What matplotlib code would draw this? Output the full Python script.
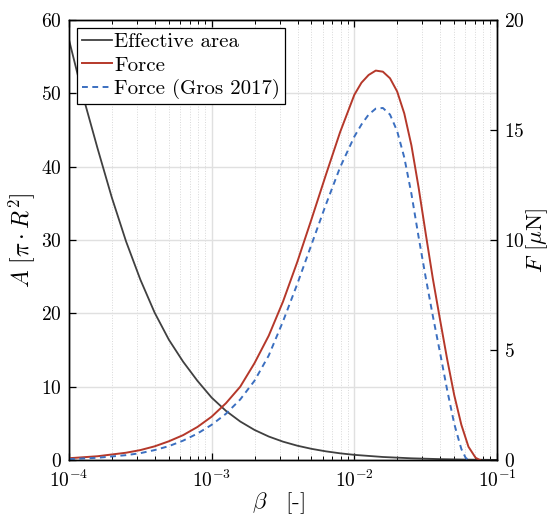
import numpy as np
import matplotlib
matplotlib.use("Agg")
import matplotlib.pyplot as plt
from matplotlib.ticker import LogLocator, NullFormatter, FixedLocator

plt.rcParams["font.family"] = "serif"
plt.rcParams["font.serif"] = ["cmr10"]
plt.rcParams["mathtext.fontset"] = "cm"
plt.rcParams["axes.unicode_minus"] = False
plt.rcParams["axes.formatter.use_mathtext"] = True

# ── Data (positions given as log10(beta)) ──
log_beta_area = [-4.0, -3.9, -3.8, -3.7, -3.6, -3.5, -3.4, -3.3, -3.2, -3.1,
                 -3.0, -2.9, -2.8, -2.7, -2.6, -2.5, -2.4, -2.3, -2.2, -2.1,
                 -2.0, -1.8, -1.6, -1.4, -1.2, -1.0]
area = [57.3, 49.5, 42.5, 35.8, 29.8, 24.6, 20.1, 16.4, 13.4, 10.8,
        8.5, 6.7, 5.25, 4.1, 3.2, 2.5, 1.95, 1.52, 1.18, 0.91,
        0.7, 0.41, 0.23, 0.12, 0.05, 0.01]

log_beta_force = [-4.0, -3.8, -3.6, -3.5, -3.4, -3.3, -3.2, -3.1, -3.0, -2.9,
                  -2.8, -2.7, -2.6, -2.5, -2.4, -2.3, -2.2, -2.1, -2.05, -2.0,
                  -1.95, -1.9, -1.85, -1.8, -1.75, -1.7, -1.65, -1.6, -1.55,
                  -1.5, -1.45, -1.4, -1.35, -1.3, -1.25, -1.2, -1.15, -1.12]
force = [0.08, 0.17, 0.33, 0.45, 0.62, 0.85, 1.13, 1.50, 1.97, 2.58,
         3.33, 4.4, 5.65, 7.2, 9.0, 10.95, 12.95, 14.9, 15.75, 16.6,
         17.15, 17.5, 17.7, 17.65, 17.35, 16.75, 15.75, 14.3, 12.4,
         10.3, 8.25, 6.4, 4.6, 2.95, 1.6, 0.6, 0.1, 0.0]

log_beta_gros = [-4.0, -3.8, -3.6, -3.5, -3.4, -3.3, -3.2, -3.1, -3.0, -2.9,
                 -2.8, -2.7, -2.6, -2.5, -2.4, -2.3, -2.2, -2.1, -2.0, -1.95,
                 -1.9, -1.85, -1.8, -1.75, -1.7, -1.65, -1.6, -1.55, -1.5,
                 -1.45, -1.4, -1.35, -1.3, -1.27, -1.25, -1.22, -1.2]
force_gros = [0.04, 0.10, 0.22, 0.31, 0.45, 0.63, 0.88, 1.2, 1.6, 2.1,
              2.75, 3.6, 4.75, 6.3, 8.0, 9.8, 11.6, 13.3, 14.7, 15.25,
              15.7, 15.97, 16.0, 15.7, 14.95, 13.75, 12.1, 10.15, 8.3,
              6.55, 4.9, 3.2, 1.65, 0.95, 0.5, 0.1, 0.0]

C_AREA = "#404040"
C_FORCE = "#b5382a"
C_GROS = "#3b6fc0"

fig = plt.figure(figsize=(5.52, 5.19), dpi=100)
ax = fig.add_axes([0.125, 0.1137, 0.7754, 0.8478])
ax2 = ax.twinx()

ax.set_xscale("log")
ax.set_xlim(1e-4, 1e-1)
ax.set_ylim(0, 60)
ax2.set_ylim(0, 20)

l1, = ax.plot(10.0 ** np.array(log_beta_area), area, color=C_AREA, lw=1.3,
              label="Effective area")
l2, = ax2.plot(10.0 ** np.array(log_beta_force), force, color=C_FORCE, lw=1.4,
               label="Force")
l3, = ax2.plot(10.0 ** np.array(log_beta_gros), force_gros, color=C_GROS, lw=1.4,
               ls=(0, (3, 2.3)), label="Force (Gros 2017)")

# grid
ax.set_axisbelow(True)
ax.grid(True, which="major", color="#e0e0e0", lw=1.0)
ax.xaxis.grid(True, which="minor", color="#d8d8d8", lw=0.7, ls=":")

ax.xaxis.set_major_locator(LogLocator(base=10, numticks=10))
ax.xaxis.set_minor_locator(LogLocator(base=10, subs=np.arange(2, 10), numticks=10))
ax.xaxis.set_minor_formatter(NullFormatter())
ax.yaxis.set_major_locator(FixedLocator([0, 10, 20, 30, 40, 50, 60]))
ax2.yaxis.set_major_locator(FixedLocator([0, 5, 10, 15, 20]))

ax.tick_params(axis="x", which="both", direction="in", top=True, labelsize=14, pad=7)
ax.tick_params(axis="x", which="major", length=5, width=0.9)
ax.tick_params(axis="x", which="minor", length=3, width=0.7)
ax.tick_params(axis="y", direction="in", length=5, width=0.9, labelsize=14, pad=5)
ax2.tick_params(axis="y", direction="in", length=5, width=0.9, labelsize=14, pad=5)

for a in (ax, ax2):
    for s in a.spines.values():
        s.set_linewidth(1.0)
        s.set_color("black")

ax.set_xlabel(r"$\beta\ \ \ $[-]", fontsize=16.5, labelpad=0)
ax.xaxis.set_label_coords(0.49, -0.068)
ax.set_ylabel(r"$A\ [\pi \cdot R^2]$", fontsize=17, labelpad=3)
ax2.set_ylabel(r"$F$ [$\mu$N]", fontsize=16.5, labelpad=0)

leg = ax2.legend(handles=[l1, l2, l3], loc="upper left", fontsize=15,
                 frameon=True, fancybox=False, edgecolor="black", framealpha=1,
                 handlelength=1.45, handletextpad=0.1, borderpad=0.22,
                 labelspacing=0.22, borderaxespad=0.4)
leg.get_frame().set_linewidth(0.9)

fig.savefig("out.png", dpi=100)
